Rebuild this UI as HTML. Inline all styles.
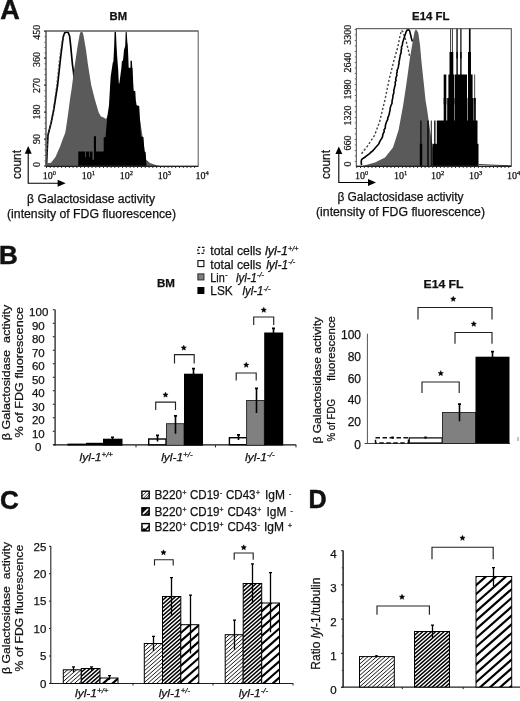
<!DOCTYPE html>
<html>
<head>
<meta charset="utf-8">
<title>Figure</title>
<style>
html,body{margin:0;padding:0;background:#fff;}
body{width:520px;height:701px;overflow:hidden;}
svg{display:block;filter:grayscale(1);}
text{font-family:"Liberation Sans",sans-serif;fill:#111;stroke:#111;stroke-width:0.25px;}
.serif{font-family:"Liberation Serif",serif;}
.b{font-weight:bold;}
.big{stroke-width:0.5px;}
.i{font-style:italic;}
</style>
</head>
<body>
<svg width="520" height="701" viewBox="0 0 520 701">
<defs>
  <path id="star" d="M0.00,-2.75L0.73,-1.01L2.62,-0.85L1.19,0.39L1.62,2.22L0.00,1.25L-1.62,2.22L-1.19,0.39L-2.62,-0.85L-0.73,-1.01Z" fill="#000" stroke="#000" stroke-width="0.5" stroke-linejoin="round"/>
</defs>
<rect x="0" y="0" width="520" height="701" fill="#fff"/>

<!-- ===================== PANEL A ===================== -->
<g id="panelA">
<text x="0.2" y="18.5" class="b big" font-size="27">A</text>
<text x="109.5" y="20" class="b" font-size="11" textLength="17.5" lengthAdjust="spacingAndGlyphs">BM</text>
<text x="412" y="20" class="b" font-size="11" textLength="37.5" lengthAdjust="spacingAndGlyphs">E14 FL</text>

<!-- BM histogram -->
<g id="bm">
  <!-- open histograms -->
  <path d="M46.5,165.5 L47.2,150 L48,135 L51.2,122.5 L53.7,110 L57.6,85 L60.6,57.5 L62.4,43 L63.3,36.5 L64.6,33 L66.5,31.7 L68.3,32.8 L69.6,36 L70.6,45 L72.5,65 L73.5,72 L76,100 L78,166" stroke-linejoin="round" fill="#fff" stroke="#000" stroke-width="1.7"/>
  <path d="M46.5,165.5 L47.8,138 L50.6,124 L53,112 L56.2,88 L59.2,60 L61.8,42 L64,34" fill="none" stroke="#555" stroke-width="0.8" stroke-dasharray="2 2"/>
  <!-- gray -->
  <path d="M47,166 L47,163.3 L51,162.7 L55.5,156.9 L60.1,146.5 L63,138.4 L65.3,132.7 L67.1,121.1 L68.8,108.5 L70.5,95.8 L71.5,90 L73.7,72.5 L77.3,48 L79.5,35.2 L80.3,32.6 L81.5,31.2 L82.7,32.6 L83.5,35.2 L86,50 L88,65 L91.2,85 L95,100 L98.7,112.5 L101,116.5 L103.7,117.5 L106,119 L108.7,114 L112,108 L140,120 L146.2,159.7 L150,163 L155,164.8 L160,166 Z" fill="#5a5a5a"/>
  <!-- black -->
  <path d="M78.3,166 L78.3,151.6 L85.2,151.6 L85.2,157 L86,157 L86,151.6 L89,151.6 L89,157 L89.7,157 L89.7,151.6 L92.5,151.6 L92.5,159.7 L93.9,159.7 L93.9,136.3 L96,136.3 L96,151.6 L103.7,151.6 L103.7,137.2 L105.5,137.2 L107.2,117.3 L109,105.2 L110.2,84 L110.7,76.5 L112.8,62.5 L113.4,61.4 L114.2,45 L114.6,31.4 L115.9,31.4 L116.5,45 L117.2,57 L118.2,70 L118.8,83.3 L119.3,83.6 L120.3,76.3 L121.4,67.8 L121.9,61 L123,60.8 L124,50 L125.2,46 L125.7,31.4 L126.7,31.4 L127.3,42 L127.8,45.3 L128.2,55 L128.7,67.8 L130.5,67.8 L130.5,60.8 L131.9,60.8 L132.2,67.8 L132.6,67.8 L133.2,83 L133.7,90.8 L135.3,91.2 L135.8,99.9 L136.6,105.2 L139.2,106 L141,136.3 L143.5,137.2 L144.4,151.6 L145.6,152 L146.5,166 Z" fill="#000"/>
  <!-- frame -->
  <rect x="46" y="31" width="152.2" height="135.3" fill="none" stroke="#555" stroke-width="1"/>
  <line x1="46" y1="31" x2="198.2" y2="31" stroke="#777" stroke-width="1.4"/>
  <line x1="46" y1="31" x2="46" y2="166.3" stroke="#555" stroke-width="1"/>
  <line x1="46" y1="166.3" x2="198.2" y2="166.3" stroke="#222" stroke-width="1.2"/>
  <!-- ticks -->
  <path d="M46,31h-2 M46,58h-2 M46,85h-2 M46,112h-2 M46,139h-2 M46,166h-2" stroke="#222" stroke-width="1" fill="none"/>
  <line x1="45" y1="31" x2="45" y2="166" stroke="#222" stroke-width="1" stroke-dasharray="0.8 4.6"/>
  <line x1="46" y1="167.3" x2="198" y2="167.3" stroke="#222" stroke-width="1.6" stroke-dasharray="0.9 2.9"/>
  <!-- y labels -->
  <g class="serif" font-size="10" text-anchor="middle">
    <text class="serif" transform="translate(40,32.3) rotate(-90)">450</text>
    <text class="serif" transform="translate(40,59.5) rotate(-90)">360</text>
    <text class="serif" transform="translate(40,85.5) rotate(-90)">270</text>
    <text class="serif" transform="translate(40,112) rotate(-90)">180</text>
    <text class="serif" transform="translate(40,139) rotate(-90)">90</text>
    <text class="serif" transform="translate(40,164.5) rotate(-90)">0</text>
  </g>
  <!-- x labels -->
  <g class="serif" font-size="10">
    <text class="serif" x="42.8" y="179">10<tspan font-size="6.5" dy="-3.8">0</tspan></text>
    <text class="serif" x="81.8" y="179">10<tspan font-size="6.5" dy="-3.8">1</tspan></text>
    <text class="serif" x="119.8" y="179">10<tspan font-size="6.5" dy="-3.8">2</tspan></text>
    <text class="serif" x="157.8" y="179">10<tspan font-size="6.5" dy="-3.8">3</tspan></text>
    <text class="serif" x="195.5" y="179">10<tspan font-size="6.5" dy="-3.8">4</tspan></text>
  </g>
  <!-- count + arrows -->
  <text transform="translate(20.7,179) rotate(-90)" font-size="12" textLength="29" lengthAdjust="spacingAndGlyphs">count</text>
  <path d="M28.2,152 L28.2,183.2 L59,183.2" fill="none" stroke="#000" stroke-width="1.1"/>
  <path d="M28.2,146 L31.7,153.7 L24.8,153.7 Z" fill="#000"/>
  <path d="M65.7,183.2 L57.6,186.8 L57.6,179.8 Z" fill="#000"/>
  <text x="27" y="203" font-size="12">β</text><text x="37.5" y="203" font-size="12" textLength="117.5" lengthAdjust="spacingAndGlyphs">Galactosidase activity</text>
  <text x="7" y="218.3" font-size="12" textLength="169" lengthAdjust="spacingAndGlyphs">(intensity of FDG fluorescence)</text>
</g>

<!-- E14 FL histogram -->
<g id="fl">
  <!-- dashed open -->
  <path d="M361.5,153.7 L367.6,145.9 L374.5,135.5 L379.7,121.5 L383.2,106.9 L384.9,100 L389.3,78.8 L393.5,62 L397.8,47 L400,36 L401.4,30.4 L403,32 L406.1,41.2 L408.8,52 L409.5,56" fill="none" stroke="#444" stroke-width="1.4" stroke-dasharray="2.2 1.9"/>
  <!-- solid open -->
  <path d="M361.5,165.0 L361.3,163.2 L361.2,161.5 L361.6,159.7 L362.6,158.6 L364.5,157.5 L365.9,156.4 L367.2,155.4 L369.3,153.9 L370.6,152.5 L372.7,150.9 L374.1,149.3 L375.4,147.7 L376.9,146.0 L378.6,144.2 L379.4,142.4 L380.4,140.4 L381.6,138.5 L382.5,136.9 L382.7,135.3 L383.1,133.7 L384.2,131.8 L384.0,129.9 L385.3,128.0 L385.3,126.2 L385.7,124.3 L386.3,122.5 L386.9,121.0 L387.8,119.4 L387.7,117.9 L388.7,115.8 L389.3,113.8 L389.5,112.1 L390.1,110.4 L390.1,108.7 L390.5,106.9 L391.1,105.2 L392.0,103.5 L392.0,101.8 L392.2,100.1 L392.7,98.4 L392.9,96.8 L393.0,95.1 L393.7,93.4 L393.9,91.7 L393.8,90.0 L394.4,88.4 L394.6,86.8 L395.2,85.2 L395.3,83.6 L395.2,82.0 L396.1,80.4 L395.7,78.8 L396.2,77.1 L396.9,75.3 L396.6,73.6 L397.2,71.9 L397.1,70.2 L398.0,68.5 L398.4,66.7 L398.6,65.0 L399.1,63.4 L398.9,61.8 L399.5,60.1 L399.7,58.5 L400.0,56.9 L400.2,55.2 L400.8,53.6 L401.2,52.0 L401.1,50.3 L401.6,48.7 L401.4,47.0 L402.3,45.3 L402.5,43.7 L402.8,42.0 L403.3,40.5 L403.8,38.9 L404.3,37.3 L404.8,35.8 L405.5,33.8 L406.1,31.7 L407.3,30.0 L408.6,29.7 L409.6,30.8 L410.0,32.4 L410.4,34.0 L410.9,36.0 L411.3,38.0 L411.9,39.8 L412.4,41.5" fill="none" stroke="#000" stroke-width="1.6" stroke-linejoin="round"/>
  <!-- gray -->
  <path d="M362.5,166 L375,162.5 L385,157.5 L393,147.5 L398.6,130 L403.2,105 L406.6,82.5 L410,57.5 L413,40 L414.6,31.5 L415.8,29.5 L417,30.5 L418.3,33 L420,45 L421.5,62 L423.7,82.5 L425.5,100 L427.3,111 L430,130 L433.4,150.8 L436,160 L440,166 Z" fill="#5a5a5a"/>
  <!-- black spikes -->
  <g fill="#000">
    <rect x="420.3" y="120.5" width="1.2" height="46"/>
    <rect x="419.8" y="143.8" width="2.4" height="22.5"/>
    <rect x="427.3" y="120.5" width="1.4" height="46"/>
    <rect x="430.8" y="120.5" width="0.9" height="46"/>
    <rect x="434.2" y="120.5" width="1.3" height="46"/>
    <rect x="432.5" y="143.8" width="46" height="22.5"/>
    <rect x="436.8" y="120.5" width="40.7" height="46"/>
    <rect x="443.7" y="98" width="2.6" height="30"/>
    <rect x="447.2" y="98" width="7.2" height="30"/>
    <rect x="454.8" y="98" width="12.6" height="30"/>
    <rect x="467.9" y="98" width="5.7" height="30"/>
    <rect x="474.1" y="98" width="1.7" height="30"/>
    <rect x="443.7" y="74.5" width="2.6" height="30"/>
    <rect x="448.4" y="74.5" width="6" height="30"/>
    <rect x="455" y="74.5" width="12" height="30"/>
    <rect x="468" y="74.5" width="4.6" height="30"/>
    <rect x="474.4" y="74.5" width="0.7" height="30"/>
    <rect x="449.5" y="52" width="3.8" height="30"/>
    <rect x="456.4" y="52" width="1.4" height="30"/>
    <rect x="460.2" y="52" width="1.4" height="30"/>
    <rect x="468" y="52" width="3" height="30"/>
    <rect x="450.2" y="28.5" width="0.7" height="30"/>
    <rect x="451.9" y="28.5" width="0.8" height="30"/>
    <rect x="456.4" y="28.5" width="1.3" height="30"/>
    <rect x="460.3" y="28.5" width="1.2" height="30"/>
    <rect x="468.9" y="28.5" width="1.7" height="30"/>
  </g>
  <path d="M478.4,164.4 L490,165 L511,165.8" stroke="#444" stroke-width="1" fill="none"/>
  <!-- frame -->
  <rect x="356.3" y="28.7" width="155" height="137.6" fill="none" stroke="#444" stroke-width="1"/>
  <line x1="356.3" y1="166.3" x2="511.3" y2="166.3" stroke="#222" stroke-width="1.2"/>
  <line x1="355.3" y1="29" x2="355.3" y2="166" stroke="#222" stroke-width="1" stroke-dasharray="0.8 4.7"/>
  <line x1="356.3" y1="167.3" x2="511" y2="167.3" stroke="#222" stroke-width="1.6" stroke-dasharray="0.9 2.9"/>
  <g class="serif" font-size="10" text-anchor="middle">
    <text class="serif" transform="translate(351,34.8) rotate(-90)">3300</text>
    <text class="serif" transform="translate(351,62.5) rotate(-90)">2640</text>
    <text class="serif" transform="translate(351,89.5) rotate(-90)">1980</text>
    <text class="serif" transform="translate(351,115.6) rotate(-90)">1320</text>
    <text class="serif" transform="translate(351,143) rotate(-90)">660</text>
    <text class="serif" transform="translate(351,164) rotate(-90)">0</text>
  </g>
  <g class="serif" font-size="10">
    <text class="serif" x="355" y="179">10<tspan font-size="6.5" dy="-3.8">0</tspan></text>
    <text class="serif" x="394" y="179">10<tspan font-size="6.5" dy="-3.8">1</tspan></text>
    <text class="serif" x="431" y="179">10<tspan font-size="6.5" dy="-3.8">2</tspan></text>
    <text class="serif" x="469" y="179">10<tspan font-size="6.5" dy="-3.8">3</tspan></text>
    <text class="serif" x="507" y="179">10<tspan font-size="6.5" dy="-3.8">4</tspan></text>
  </g>
  <text transform="translate(329.5,179) rotate(-90)" font-size="12" textLength="29" lengthAdjust="spacingAndGlyphs">count</text>
  <path d="M338.8,152 L338.8,182.5 L370,182.5" fill="none" stroke="#000" stroke-width="1.1"/>
  <path d="M338.8,146.5 L342.3,154 L335.4,154 Z" fill="#000"/>
  <path d="M376,182.5 L368,186 L368,179 Z" fill="#000"/>
  <text x="337.5" y="200.8" font-size="12">β</text><text x="347.5" y="200.8" font-size="12" textLength="116" lengthAdjust="spacingAndGlyphs">Galactosidase activity</text>
  <text x="316" y="216" font-size="12" textLength="169" lengthAdjust="spacingAndGlyphs">(intensity of FDG fluorescence)</text>
</g>
</g>
<!-- ===================== PANEL B ===================== -->
<g id="panelB">
<text x="-0.9" y="263.7" class="b big" font-size="26">B</text>
<text x="157" y="287.3" class="b" font-size="11" textLength="18" lengthAdjust="spacingAndGlyphs">BM</text>
<text x="423.5" y="288.4" class="b" font-size="11.5" textLength="40" lengthAdjust="spacingAndGlyphs">E14 FL</text>

<!-- legend -->
<g id="legB" font-size="12">
  <rect x="197.9" y="247.3" width="6" height="6" fill="#fff" stroke="#111" stroke-width="1.2" stroke-dasharray="2.4 1.6"/>
  <rect x="197.9" y="260.6" width="6" height="6" fill="#fff" stroke="#111" stroke-width="1.1"/>
  <rect x="197.9" y="273.9" width="6" height="6" fill="#808080" stroke="#333" stroke-width="1.1"/>
  <rect x="197.4" y="287" width="7" height="7" fill="#000"/>
  <text x="210.3" y="255.3" textLength="51.2" lengthAdjust="spacingAndGlyphs">total cells</text>
  <text x="265" y="255.3" class="i" textLength="23" lengthAdjust="spacingAndGlyphs">lyl-1</text>
  <text x="288" y="250.8" class="i" font-size="8" textLength="10.5" lengthAdjust="spacingAndGlyphs">+/+</text>
  <text x="210.3" y="268.6" textLength="51.2" lengthAdjust="spacingAndGlyphs">total cells</text>
  <text x="266.2" y="268.6" class="i" textLength="22" lengthAdjust="spacingAndGlyphs">lyl-1</text>
  <text x="288.2" y="264" class="i" font-size="8" textLength="7" lengthAdjust="spacingAndGlyphs">-/-</text>
  <text x="210.3" y="281.9" textLength="14.5" lengthAdjust="spacingAndGlyphs">Lin</text>
  <text x="225" y="277" font-size="8">-</text>
  <text x="236" y="281.9" class="i" textLength="21" lengthAdjust="spacingAndGlyphs">lyl-1</text>
  <text x="257" y="277.3" class="i" font-size="8" textLength="7" lengthAdjust="spacingAndGlyphs">-/-</text>
  <text x="210.3" y="295.2" textLength="22.4" lengthAdjust="spacingAndGlyphs">LSK</text>
  <text x="242.6" y="295.2" class="i" textLength="20.8" lengthAdjust="spacingAndGlyphs">lyl-1</text>
  <text x="263.4" y="290.6" class="i" font-size="8" textLength="7" lengthAdjust="spacingAndGlyphs">-/-</text>
</g>

<!-- left chart -->
<g id="bLeft">
  <text transform="translate(9.7,440.2) rotate(-90)" font-size="11.3" textLength="135.5" lengthAdjust="spacingAndGlyphs" xml:space="preserve">β Galactosidase  activity</text>
  <text transform="translate(23.2,437.5) rotate(-90)" font-size="11.3" textLength="130.5" lengthAdjust="spacingAndGlyphs">% of FDG fluorescence</text>
  <g font-size="11.5" text-anchor="middle">
    <text x="38.7" y="316.1">100</text>
    <text x="38.3" y="329.6">90</text>
    <text x="38.3" y="343.1">80</text>
    <text x="38.3" y="356.6">70</text>
    <text x="38.3" y="370.1">60</text>
    <text x="38.3" y="383.6">50</text>
    <text x="38.3" y="397.1">40</text>
    <text x="38.3" y="410.6">30</text>
    <text x="38.3" y="424.1">20</text>
    <text x="38.3" y="437.6">10</text>
    <text x="38.3" y="451.1">0</text>
  </g>
  <line x1="55.1" y1="309.5" x2="55.1" y2="445.4" stroke="#111" stroke-width="1.2"/>
  <path d="M54.6,309.75h-1.8 M54.6,323.25h-1.8 M54.6,336.75h-1.8 M54.6,350.25h-1.8 M54.6,363.75h-1.8 M54.6,377.25h-1.8 M54.6,390.75h-1.8 M54.6,404.25h-1.8 M54.6,417.75h-1.8 M54.6,431.25h-1.8 M54.6,444.75h-1.8" stroke="#111" stroke-width="1.1" fill="none"/>
  <line x1="53.5" y1="444.9" x2="296.3" y2="444.9" stroke="#111" stroke-width="1.2"/>
  <path d="M136,445.3v2 M215.5,445.3v2 M296,445.3v2" stroke="#111" stroke-width="1" fill="none"/>
  <!-- group 1 -->
  <rect x="67.5" y="443.6" width="18.5" height="1.9" fill="#000"/>
  <rect x="86" y="442.8" width="17" height="2.7" fill="#000"/>
  <rect x="103" y="438.7" width="19.5" height="7" fill="#000"/>
  <path class="eb" d="M112.5,436.8V440.0M111.0,437.2h3.0" stroke="#000" stroke-width="1.6" fill="none"/>
  <!-- group 2 -->
  <rect x="148.7" y="439" width="17.3" height="5.8" fill="#fff" stroke="#000" stroke-width="1.4"/>
  <rect x="166.5" y="423.7" width="17.5" height="21.6" fill="#808080" stroke="#222" stroke-width="0.9"/>
  <rect x="184" y="373.7" width="19" height="72" fill="#000"/>
  <path class="eb" d="M157.5,435.0V441.5M156.0,435.4h3.0" stroke="#000" stroke-width="1.6" fill="none"/>
  <path class="eb" d="M175.5,415.5V433.7M174.0,415.9h3.0" stroke="#000" stroke-width="1.6" fill="none"/>
  <path class="eb" d="M193.5,368.2V375.0M192.0,368.59999999999997h3.0" stroke="#000" stroke-width="1.6" fill="none"/>
  <path d="M155.7,410.1 V402.1 H175.5 V410.1" fill="none" stroke="#222" stroke-width="1.15"/>
  <path d="M174.5,363.4 V354.6 H194.2 V363.4" fill="none" stroke="#222" stroke-width="1.15"/>
  <use href="#star" x="165.5" y="394.9"/>
  <use href="#star" x="183.75" y="347.9"/>
  <!-- group 3 -->
  <rect x="229.4" y="437.7" width="17.4" height="7" fill="#fff" stroke="#000" stroke-width="1.4"/>
  <rect x="246.6" y="400.5" width="17.7" height="44.8" fill="#808080" stroke="#222" stroke-width="0.9"/>
  <rect x="264.2" y="332.5" width="19" height="113" fill="#000"/>
  <path class="eb" d="M238.5,434.5V440.0M237.0,434.9h3.0" stroke="#000" stroke-width="1.6" fill="none"/>
  <path class="eb" d="M256.5,388.0V413.0M255.0,388.4h3.0" stroke="#000" stroke-width="1.6" fill="none"/>
  <path class="eb" d="M273.5,328.0V334.0M272.0,328.4h3.0" stroke="#000" stroke-width="1.6" fill="none"/>
  <path d="M236.2,380.5 V373 H256.2 V380.5" fill="none" stroke="#222" stroke-width="1.15"/>
  <path d="M253.7,325 V317 H273.7 V325" fill="none" stroke="#222" stroke-width="1.15"/>
  <use href="#star" x="246.25" y="365.1"/>
  <use href="#star" x="263.75" y="310.1"/>
  <!-- x labels -->
  <g font-size="11.5" class="i">
    <text x="79.5" y="461" class="i" textLength="22" lengthAdjust="spacingAndGlyphs">lyl-1</text>
    <text x="101.5" y="456.8" class="i" font-size="8" textLength="11.5" lengthAdjust="spacingAndGlyphs">+/+</text>
    <text x="161.2" y="461.2" class="i" textLength="22" lengthAdjust="spacingAndGlyphs">lyl-1</text>
    <text x="183.2" y="457" class="i" font-size="8" textLength="9.3" lengthAdjust="spacingAndGlyphs">+/-</text>
    <text x="245" y="461" class="i" textLength="22" lengthAdjust="spacingAndGlyphs">lyl-1</text>
    <text x="267" y="456.8" class="i" font-size="8" textLength="7.6" lengthAdjust="spacingAndGlyphs">-/-</text>
  </g>
</g>

<!-- right chart -->
<g id="bRight">
  <text transform="translate(321.2,443.5) rotate(-90)" font-size="11.6" textLength="126.5" lengthAdjust="spacingAndGlyphs">β Galactosidase activity</text>
  <text transform="translate(335.3,441.5) rotate(-90)" font-size="11.6" textLength="42.5" lengthAdjust="spacingAndGlyphs">% of FDG</text>
  <text transform="translate(335.3,381) rotate(-90)" font-size="11.6" textLength="65" lengthAdjust="spacingAndGlyphs">fluorescence</text>
  <g font-size="12" text-anchor="end">
    <text x="361" y="338.7">100</text>
    <text x="361" y="360.6">80</text>
    <text x="361" y="382.6">60</text>
    <text x="361" y="404.4">40</text>
    <text x="361" y="426.4">20</text>
    <text x="361" y="448.8">0</text>
  </g>
  <line x1="367.4" y1="333.7" x2="367.4" y2="443.7" stroke="#555" stroke-width="1"/>
  <line x1="364.5" y1="443.5" x2="510" y2="443.5" stroke="#444" stroke-width="1"/>
  <line x1="518" y1="437" x2="518" y2="441" stroke="#888" stroke-width="1"/>
  <rect x="375.5" y="437.7" width="33" height="5.3" fill="#fff" stroke="#111" stroke-width="1.5" stroke-dasharray="4.5 2.5"/>
  <rect x="409.2" y="437.9" width="33" height="5.1" fill="#fff" stroke="#000" stroke-width="1.2"/>
  <rect x="442.5" y="412.5" width="33" height="31" fill="#808080" stroke="#222" stroke-width="0.9"/>
  <rect x="475.5" y="356.7" width="34" height="86.8" fill="#000"/>
  <path class="eb" d="M392.5,436.8V438.8M391.3,437.2h2.4" stroke="#000" stroke-width="1.6" fill="none"/>
  <path class="eb" d="M425.5,436.8V438.8M424.3,437.2h2.4" stroke="#000" stroke-width="1.6" fill="none"/>
  <path class="eb" d="M459.5,403.7V421.2M458.0,404.09999999999997h3.0" stroke="#000" stroke-width="1.6" fill="none"/>
  <path class="eb" d="M492.5,351.2V358.0M491.0,351.59999999999997h3.0" stroke="#000" stroke-width="1.6" fill="none"/>
  <path d="M418,319.5 V307.5 H492 V319.5" fill="none" stroke="#222" stroke-width="1.15"/>
  <path d="M455,343.7 V332.5 H492 V343.7" fill="none" stroke="#222" stroke-width="1.15"/>
  <path d="M422,393 V382 H459.2 V393" fill="none" stroke="#222" stroke-width="1.15"/>
  <use href="#star" x="453.25" y="299.1"/>
  <use href="#star" x="473.75" y="324.1"/>
  <use href="#star" x="440.75" y="373.4"/>
</g>
</g>
<!--PANELB_END-->
<!-- ===================== PANEL C ===================== -->
<g id="panelC">
<text x="0" y="508.6" class="b big" font-size="26">C</text>
<!-- legend -->
<g id="legC" font-size="12">
  <clipPath id="lb1"><rect x="141.9" y="491.2" width="7.3" height="7.3"/></clipPath>
  <rect x="141.9" y="491.2" width="7.3" height="7.3" fill="#fff"/>
  <path clip-path="url(#lb1)" d="M140.9,497.3L148.00000000000003,490.2M141.9,499.8L150.50000000000003,491.2M144.5,499.8L150.50000000000003,493.8" stroke="#222" stroke-width="0.9" fill="none"/>
  <rect x="141.9" y="491.2" width="7.3" height="7.3" fill="none" stroke="#000" stroke-width="1.4"/>
  <clipPath id="lb2"><rect x="141.9" y="507.8" width="7.3" height="7.3"/></clipPath>
  <rect x="141.9" y="507.8" width="7.3" height="7.3" fill="#111"/>
  <path clip-path="url(#lb2)" d="M141.9,515.1L149.20000000000002,507.8" stroke="#fff" stroke-width="1.7" fill="none"/>
  <path clip-path="url(#lb2)" d="M145.1,515.7L149.8,511.0" stroke="#bbb" stroke-width="0.7" fill="none"/>
  <rect x="141.9" y="507.8" width="7.3" height="7.3" fill="none" stroke="#000" stroke-width="1.4"/>
  <clipPath id="lb3"><rect x="141.9" y="523.6" width="7.3" height="7.3"/></clipPath>
  <rect x="141.9" y="523.6" width="7.3" height="7.3" fill="#fff"/>
  <path d="M141.9,525.8000000000001L141.9,530.9L147.00000000000003,530.9Z" fill="#000"/>
  <path clip-path="url(#lb3)" d="M143.1,532.1L150.4,524.8000000000001" stroke="#000" stroke-width="1.5" fill="none"/>
  <path clip-path="url(#lb3)" d="M141.70000000000002,529.3L147.60000000000002,523.4" stroke="#fff" stroke-width="1.3" fill="none"/>
  <rect x="141.9" y="523.6" width="7.3" height="7.3" fill="none" stroke="#000" stroke-width="1.4"/>
  <g id="lc1">
    <text x="154.4" y="499" textLength="27.7" lengthAdjust="spacingAndGlyphs">B220</text>
    <text x="182.4" y="495.1" font-size="6.8">+</text>
    <text x="190" y="499" textLength="29.5" lengthAdjust="spacingAndGlyphs">CD19</text>
    <text x="220" y="495.1" font-size="6.8">-</text>
    <text x="226" y="499" textLength="29.5" lengthAdjust="spacingAndGlyphs">CD43</text>
    <text x="256" y="495.1" font-size="6.8">+</text>
    <text x="265" y="499" textLength="20" lengthAdjust="spacingAndGlyphs">IgM</text>
    <text x="289" y="496.1" font-size="6.8">-</text>
  </g>
  <g id="lc2">
    <text x="154.4" y="515.5" textLength="27.7" lengthAdjust="spacingAndGlyphs">B220</text>
    <text x="182.4" y="511.6" font-size="6.8">+</text>
    <text x="190" y="515.5" textLength="29.5" lengthAdjust="spacingAndGlyphs">CD19</text>
    <text x="219.6" y="511.6" font-size="6.8">+</text>
    <text x="227.5" y="515.5" textLength="29.5" lengthAdjust="spacingAndGlyphs">CD43</text>
    <text x="257.3" y="511.6" font-size="6.8">+</text>
    <text x="266.5" y="515.5" textLength="20" lengthAdjust="spacingAndGlyphs">IgM</text>
    <text x="290.5" y="512.6" font-size="6.8">-</text>
  </g>
  <g id="lc3">
    <text x="154.4" y="531" textLength="27.7" lengthAdjust="spacingAndGlyphs">B220</text>
    <text x="182.4" y="527.1" font-size="6.8">+</text>
    <text x="190" y="531" textLength="29.5" lengthAdjust="spacingAndGlyphs">CD19</text>
    <text x="219.6" y="527.1" font-size="6.8">+</text>
    <text x="227.5" y="531" textLength="29.5" lengthAdjust="spacingAndGlyphs">CD43</text>
    <text x="257.5" y="527.1" font-size="6.8">-</text>
    <text x="264" y="531" textLength="20" lengthAdjust="spacingAndGlyphs">IgM</text>
    <text x="288" y="528.1" font-size="6.8">+</text>
  </g>
</g>
<!-- axes -->
<text transform="translate(9.5,673.9) rotate(-90)" font-size="11.3" textLength="131.9" lengthAdjust="spacingAndGlyphs" xml:space="preserve">β Galactosidase  activity</text>
<text transform="translate(23.2,671.4) rotate(-90)" font-size="11.3" textLength="126.6" lengthAdjust="spacingAndGlyphs">% of FDG fluorescence</text>
<g font-size="11.5" text-anchor="end">
  <text x="46.4" y="550.7">25</text>
  <text x="46.4" y="577.7">20</text>
  <text x="46.4" y="605.2">15</text>
  <text x="46.4" y="632.7">10</text>
  <text x="46.4" y="660.2">5</text>
  <text x="46.4" y="687.7">0</text>
</g>
<line x1="50.8" y1="546" x2="50.8" y2="684" stroke="#222" stroke-width="1.1"/>
<path d="M50.8,546.3h-1.8 M50.8,573.7h-1.8 M50.8,601.1h-1.8 M50.8,628.5h-1.8 M50.8,656h-1.8 M50.8,683.4h-1.8" stroke="#222" stroke-width="1" fill="none"/>
<line x1="49.5" y1="683.5" x2="293.2" y2="683.5" stroke="#222" stroke-width="1.1"/>
<path d="M133,683.5v2 M213,683.5v2 M293,683.5v2" stroke="#222" stroke-width="1" fill="none"/>
<!-- group 1 -->
<!--H:c11--><clipPath id="cpc11"><rect x="63.3" y="669.8" width="18" height="13.7"/></clipPath>
<rect x="63.3" y="669.8" width="18" height="13.7" fill="#fff"/>
<path clip-path="url(#cpc11)" d="M62.30,662.88L82.30,645.28M62.30,666.78L82.30,649.18M62.30,670.68L82.30,653.08M62.30,674.58L82.30,656.98M62.30,678.48L82.30,660.88M62.30,682.38L82.30,664.78M62.30,686.28L82.30,668.68M62.30,690.18L82.30,672.58M62.30,694.08L82.30,676.48M62.30,697.98L82.30,680.38M62.30,701.88L82.30,684.28" stroke="#000" stroke-width="0.90" fill="none"/>
<rect x="63.3" y="669.8" width="18" height="13.7" fill="none" stroke="#000" stroke-width="1.0"/><!--/H:c11-->
<!--H:c12--><clipPath id="cpc12"><rect x="81.3" y="668.5" width="18.7" height="15"/></clipPath>
<rect x="81.3" y="668.5" width="18.7" height="15" fill="#fff"/>
<path clip-path="url(#cpc12)" d="M80.30,661.68L101.00,643.46M80.30,665.53L101.00,647.31M80.30,669.38L101.00,651.16M80.30,673.23L101.00,655.01M80.30,677.08L101.00,658.86M80.30,680.93L101.00,662.71M80.30,684.78L101.00,666.56M80.30,688.63L101.00,670.41M80.30,692.48L101.00,674.26M80.30,696.33L101.00,678.11M80.30,700.18L101.00,681.96M80.30,704.03L101.00,685.81" stroke="#000" stroke-width="1.50" fill="none"/>
<rect x="81.3" y="668.5" width="18.7" height="15" fill="none" stroke="#000" stroke-width="1.0"/><!--/H:c12-->
<!--H:c13--><clipPath id="cpc13"><rect x="100" y="678" width="18" height="5.5"/></clipPath>
<rect x="100" y="678" width="18" height="5.5" fill="#fff"/>
<path clip-path="url(#cpc13)" d="M99.00,662.48L119.00,644.88M99.00,670.68L119.00,653.08M99.00,678.88L119.00,661.28M99.00,687.08L119.00,669.48M99.00,695.28L119.00,677.68M99.00,703.48L119.00,685.88" stroke="#000" stroke-width="2.18" fill="none"/>
<rect x="100" y="678" width="18" height="5.5" fill="none" stroke="#000" stroke-width="1.0"/><!--/H:c13-->
<path class="eb" d="M73.5,666.5V672.0M72.0,666.9h3.0" stroke="#000" stroke-width="1.3" fill="none"/>
<path class="eb" d="M91.5,666.5V670.0M90.0,666.9h3.0" stroke="#000" stroke-width="1.3" fill="none"/>
<path class="eb" d="M109.5,675.2V679.7M108.0,675.6h3.0" stroke="#000" stroke-width="1.3" fill="none"/>
<!-- group 2 -->
<!--H:c21--><clipPath id="cpc21"><rect x="144.3" y="643.5" width="18.2" height="40"/></clipPath>
<rect x="144.3" y="643.5" width="18.2" height="40" fill="#fff"/>
<path clip-path="url(#cpc21)" d="M143.30,636.58L163.50,618.80M143.30,640.48L163.50,622.70M143.30,644.38L163.50,626.60M143.30,648.28L163.50,630.50M143.30,652.18L163.50,634.40M143.30,656.08L163.50,638.30M143.30,659.98L163.50,642.20M143.30,663.88L163.50,646.10M143.30,667.78L163.50,650.00M143.30,671.68L163.50,653.90M143.30,675.58L163.50,657.80M143.30,679.48L163.50,661.70M143.30,683.38L163.50,665.60M143.30,687.28L163.50,669.50M143.30,691.18L163.50,673.40M143.30,695.08L163.50,677.30M143.30,698.98L163.50,681.20M143.30,702.88L163.50,685.10" stroke="#000" stroke-width="0.90" fill="none"/>
<rect x="144.3" y="643.5" width="18.2" height="40" fill="none" stroke="#000" stroke-width="1.0"/><!--/H:c21-->
<!--H:c22--><clipPath id="cpc22"><rect x="162.5" y="596.5" width="18.3" height="87"/></clipPath>
<rect x="162.5" y="596.5" width="18.3" height="87" fill="#fff"/>
<path clip-path="url(#cpc22)" d="M161.50,589.68L181.80,571.82M161.50,593.53L181.80,575.67M161.50,597.38L181.80,579.52M161.50,601.23L181.80,583.37M161.50,605.08L181.80,587.22M161.50,608.93L181.80,591.07M161.50,612.78L181.80,594.92M161.50,616.63L181.80,598.77M161.50,620.48L181.80,602.62M161.50,624.33L181.80,606.47M161.50,628.18L181.80,610.32M161.50,632.03L181.80,614.17M161.50,635.88L181.80,618.02M161.50,639.73L181.80,621.87M161.50,643.58L181.80,625.72M161.50,647.43L181.80,629.57M161.50,651.28L181.80,633.42M161.50,655.13L181.80,637.27M161.50,658.98L181.80,641.12M161.50,662.83L181.80,644.97M161.50,666.68L181.80,648.82M161.50,670.53L181.80,652.67M161.50,674.38L181.80,656.52M161.50,678.23L181.80,660.37M161.50,682.08L181.80,664.22M161.50,685.93L181.80,668.07M161.50,689.78L181.80,671.92M161.50,693.63L181.80,675.77M161.50,697.48L181.80,679.62M161.50,701.33L181.80,683.47" stroke="#000" stroke-width="1.50" fill="none"/>
<rect x="162.5" y="596.5" width="18.3" height="87" fill="none" stroke="#000" stroke-width="1.0"/><!--/H:c22-->
<!--H:c23--><clipPath id="cpc23"><rect x="180.8" y="624.7" width="18" height="58.8"/></clipPath>
<rect x="180.8" y="624.7" width="18" height="58.8" fill="#fff"/>
<path clip-path="url(#cpc23)" d="M179.80,609.18L199.80,591.58M179.80,617.38L199.80,599.78M179.80,625.58L199.80,607.98M179.80,633.78L199.80,616.18M179.80,641.98L199.80,624.38M179.80,650.18L199.80,632.58M179.80,658.38L199.80,640.78M179.80,666.58L199.80,648.98M179.80,674.78L199.80,657.18M179.80,682.98L199.80,665.38M179.80,691.18L199.80,673.58M179.80,699.38L199.80,681.78M179.80,707.58L199.80,689.98" stroke="#000" stroke-width="2.18" fill="none"/>
<rect x="180.8" y="624.7" width="18" height="58.8" fill="none" stroke="#000" stroke-width="1.0"/><!--/H:c23-->
<path class="eb" d="M153.5,636.0V651.0M152.0,636.4h3.0" stroke="#000" stroke-width="1.3" fill="none"/>
<path class="eb" d="M171.5,577.2V616.0M170.0,577.6h3.0" stroke="#000" stroke-width="1.3" fill="none"/>
<path class="eb" d="M190.5,594.7V653.5M189.0,595.1h3.0" stroke="#000" stroke-width="1.3" fill="none"/>
<path d="M154.5,565.5 V559.7 H173.2 V565.5" fill="none" stroke="#222" stroke-width="1.15"/>
<use href="#star" x="163.5" y="552.6"/>
<!-- group 3 -->
<!--H:c31--><clipPath id="cpc31"><rect x="225.2" y="634.7" width="18" height="48.8"/></clipPath>
<rect x="225.2" y="634.7" width="18" height="48.8" fill="#fff"/>
<path clip-path="url(#cpc31)" d="M224.20,627.78L244.20,610.18M224.20,631.68L244.20,614.08M224.20,635.58L244.20,617.98M224.20,639.48L244.20,621.88M224.20,643.38L244.20,625.78M224.20,647.28L244.20,629.68M224.20,651.18L244.20,633.58M224.20,655.08L244.20,637.48M224.20,658.98L244.20,641.38M224.20,662.88L244.20,645.28M224.20,666.78L244.20,649.18M224.20,670.68L244.20,653.08M224.20,674.58L244.20,656.98M224.20,678.48L244.20,660.88M224.20,682.38L244.20,664.78M224.20,686.28L244.20,668.68M224.20,690.18L244.20,672.58M224.20,694.08L244.20,676.48M224.20,697.98L244.20,680.38M224.20,701.88L244.20,684.28" stroke="#000" stroke-width="0.90" fill="none"/>
<rect x="225.2" y="634.7" width="18" height="48.8" fill="none" stroke="#000" stroke-width="1.0"/><!--/H:c31-->
<!--H:c32--><clipPath id="cpc32"><rect x="243.2" y="583.5" width="18.5" height="100"/></clipPath>
<rect x="243.2" y="583.5" width="18.5" height="100" fill="#fff"/>
<path clip-path="url(#cpc32)" d="M242.20,576.68L262.70,558.64M242.20,580.53L262.70,562.49M242.20,584.38L262.70,566.34M242.20,588.23L262.70,570.19M242.20,592.08L262.70,574.04M242.20,595.93L262.70,577.89M242.20,599.78L262.70,581.74M242.20,603.63L262.70,585.59M242.20,607.48L262.70,589.44M242.20,611.33L262.70,593.29M242.20,615.18L262.70,597.14M242.20,619.03L262.70,600.99M242.20,622.88L262.70,604.84M242.20,626.73L262.70,608.69M242.20,630.58L262.70,612.54M242.20,634.43L262.70,616.39M242.20,638.28L262.70,620.24M242.20,642.13L262.70,624.09M242.20,645.98L262.70,627.94M242.20,649.83L262.70,631.79M242.20,653.68L262.70,635.64M242.20,657.53L262.70,639.49M242.20,661.38L262.70,643.34M242.20,665.23L262.70,647.19M242.20,669.08L262.70,651.04M242.20,672.93L262.70,654.89M242.20,676.78L262.70,658.74M242.20,680.63L262.70,662.59M242.20,684.48L262.70,666.44M242.20,688.33L262.70,670.29M242.20,692.18L262.70,674.14M242.20,696.03L262.70,677.99M242.20,699.88L262.70,681.84M242.20,703.73L262.70,685.69" stroke="#000" stroke-width="1.50" fill="none"/>
<rect x="243.2" y="583.5" width="18.5" height="100" fill="none" stroke="#000" stroke-width="1.0"/><!--/H:c32-->
<!--H:c33--><clipPath id="cpc33"><rect x="261.7" y="603" width="17.8" height="80.5"/></clipPath>
<rect x="261.7" y="603" width="17.8" height="80.5" fill="#fff"/>
<path clip-path="url(#cpc33)" d="M260.70,587.48L280.50,570.06M260.70,595.68L280.50,578.26M260.70,603.88L280.50,586.46M260.70,612.08L280.50,594.66M260.70,620.28L280.50,602.86M260.70,628.48L280.50,611.06M260.70,636.68L280.50,619.26M260.70,644.88L280.50,627.46M260.70,653.08L280.50,635.66M260.70,661.28L280.50,643.86M260.70,669.48L280.50,652.06M260.70,677.68L280.50,660.26M260.70,685.88L280.50,668.46M260.70,694.08L280.50,676.66M260.70,702.28L280.50,684.86" stroke="#000" stroke-width="2.18" fill="none"/>
<rect x="261.7" y="603" width="17.8" height="80.5" fill="none" stroke="#000" stroke-width="1.0"/><!--/H:c33-->
<path class="eb" d="M234.5,619.7V649.7M233.0,620.1h3.0" stroke="#000" stroke-width="1.3" fill="none"/>
<path class="eb" d="M252.5,563.5V603.5M251.0,563.9h3.0" stroke="#000" stroke-width="1.3" fill="none"/>
<path class="eb" d="M270.5,572.2V632.2M269.0,572.6h3.0" stroke="#000" stroke-width="1.3" fill="none"/>
<path d="M234.2,559.7 V553 H253.2 V559.7" fill="none" stroke="#222" stroke-width="1.15"/>
<use href="#star" x="243.75" y="547.6"/>
<!-- x labels -->
<g font-size="11.5">
  <text x="75" y="697.2" class="i" textLength="22" lengthAdjust="spacingAndGlyphs">lyl-1</text>
  <text x="97" y="693" class="i" font-size="8" textLength="11.5" lengthAdjust="spacingAndGlyphs">+/+</text>
  <text x="158.7" y="697.2" class="i" textLength="22" lengthAdjust="spacingAndGlyphs">lyl-1</text>
  <text x="180.7" y="693" class="i" font-size="8" textLength="9.3" lengthAdjust="spacingAndGlyphs">+/-</text>
  <text x="238.7" y="697.2" class="i" textLength="22" lengthAdjust="spacingAndGlyphs">lyl-1</text>
  <text x="260.7" y="693" class="i" font-size="8" textLength="7.6" lengthAdjust="spacingAndGlyphs">-/-</text>
</g>
</g>
<!--PANELC_END-->
<!-- ===================== PANEL D ===================== -->
<g id="panelD">
<text x="308.4" y="508" class="b big" font-size="25">D</text>
<text transform="translate(320,669.7) rotate(-90)" font-size="12"><tspan>Ratio </tspan><tspan class="i">lyl</tspan><tspan>-1/tubulin</tspan></text>
<g font-size="11.5" text-anchor="end">
  <text x="336.6" y="557.7">4</text>
  <text x="336.6" y="591.5">3</text>
  <text x="336.6" y="625.7">2</text>
  <text x="336.6" y="660.2">1</text>
  <text x="336.6" y="694">0</text>
</g>
<line x1="343.1" y1="550.5" x2="343.1" y2="687.6" stroke="#000" stroke-width="1.3"/>
<path d="M343,550.7h-2 M343,584.9h-2 M343,619.1h-2 M343,653.3h-2 M343,687.3h-2" stroke="#222" stroke-width="1" fill="none"/>
<path d="M343,567.8h-1.2 M343,602h-1.2 M343,636.2h-1.2 M343,670.4h-1.2" stroke="#222" stroke-width="0.8" fill="none"/>
<line x1="341.5" y1="687.1" x2="520" y2="687.1" stroke="#222" stroke-width="1.1"/>
<path d="M402.3,687.1v2 M463.2,687.1v2" stroke="#222" stroke-width="1" fill="none"/>
<!--H:d1--><clipPath id="cpd1"><rect x="359.5" y="656.6" width="34.8" height="30.5"/></clipPath>
<rect x="359.5" y="656.6" width="34.8" height="30.5" fill="#fff"/>
<path clip-path="url(#cpd1)" d="M358.50,649.88L395.30,617.50M358.50,653.68L395.30,621.30M358.50,657.48L395.30,625.10M358.50,661.28L395.30,628.90M358.50,665.08L395.30,632.70M358.50,668.88L395.30,636.50M358.50,672.68L395.30,640.30M358.50,676.48L395.30,644.10M358.50,680.28L395.30,647.90M358.50,684.08L395.30,651.70M358.50,687.88L395.30,655.50M358.50,691.68L395.30,659.30M358.50,695.48L395.30,663.10M358.50,699.28L395.30,666.90M358.50,703.08L395.30,670.70M358.50,706.88L395.30,674.50M358.50,710.68L395.30,678.30M358.50,714.48L395.30,682.10M358.50,718.28L395.30,685.90M358.50,722.08L395.30,689.70" stroke="#000" stroke-width="0.90" fill="none"/>
<rect x="359.5" y="656.6" width="34.8" height="30.5" fill="none" stroke="#000" stroke-width="1.0"/><!--/H:d1-->
<!--H:d2--><clipPath id="cpd2"><rect x="414.5" y="631.5" width="35" height="55.6"/></clipPath>
<rect x="414.5" y="631.5" width="35" height="55.6" fill="#fff"/>
<path clip-path="url(#cpd2)" d="M413.50,624.88L450.50,592.32M413.50,628.63L450.50,596.07M413.50,632.38L450.50,599.82M413.50,636.13L450.50,603.57M413.50,639.88L450.50,607.32M413.50,643.63L450.50,611.07M413.50,647.38L450.50,614.82M413.50,651.13L450.50,618.57M413.50,654.88L450.50,622.32M413.50,658.63L450.50,626.07M413.50,662.38L450.50,629.82M413.50,666.13L450.50,633.57M413.50,669.88L450.50,637.32M413.50,673.63L450.50,641.07M413.50,677.38L450.50,644.82M413.50,681.13L450.50,648.57M413.50,684.88L450.50,652.32M413.50,688.63L450.50,656.07M413.50,692.38L450.50,659.82M413.50,696.13L450.50,663.57M413.50,699.88L450.50,667.32M413.50,703.63L450.50,671.07M413.50,707.38L450.50,674.82M413.50,711.13L450.50,678.57M413.50,714.88L450.50,682.32M413.50,718.63L450.50,686.07M413.50,722.38L450.50,689.82" stroke="#000" stroke-width="1.43" fill="none"/>
<rect x="414.5" y="631.5" width="35" height="55.6" fill="none" stroke="#000" stroke-width="1.0"/><!--/H:d2-->
<!--H:d3--><clipPath id="cpd3"><rect x="476" y="576.5" width="35.7" height="110.6"/></clipPath>
<rect x="476" y="576.5" width="35.7" height="110.6" fill="#fff"/>
<path clip-path="url(#cpd3)" d="M475.00,559.78L512.70,526.60M475.00,568.58L512.70,535.40M475.00,577.38L512.70,544.20M475.00,586.18L512.70,553.00M475.00,594.98L512.70,561.80M475.00,603.78L512.70,570.60M475.00,612.58L512.70,579.40M475.00,621.38L512.70,588.20M475.00,630.18L512.70,597.00M475.00,638.98L512.70,605.80M475.00,647.78L512.70,614.60M475.00,656.58L512.70,623.40M475.00,665.38L512.70,632.20M475.00,674.18L512.70,641.00M475.00,682.98L512.70,649.80M475.00,691.78L512.70,658.60M475.00,700.58L512.70,667.40M475.00,709.38L512.70,676.20M475.00,718.18L512.70,685.00M475.00,726.98L512.70,693.80" stroke="#000" stroke-width="2.18" fill="none"/>
<rect x="476" y="576.5" width="35.7" height="110.6" fill="none" stroke="#000" stroke-width="1.0"/><!--/H:d3-->
<path class="eb" d="M376.5,655.3V657.6M375.3,655.6999999999999h2.4" stroke="#000" stroke-width="1.3" fill="none"/>
<path class="eb" d="M432.5,624.7V638.0M431.0,625.1h3.0" stroke="#000" stroke-width="1.3" fill="none"/>
<path class="eb" d="M493.5,567.2V586.0M492.0,567.6h3.0" stroke="#000" stroke-width="1.3" fill="none"/>
<path d="M377,614.7 V606 H429.4 V614.7" fill="none" stroke="#222" stroke-width="1.15"/>
<path d="M432,559.2 V547.2 H493.2 V559.2" fill="none" stroke="#222" stroke-width="1.15"/>
<use href="#star" x="402.0" y="597.1"/>
<use href="#star" x="462.5" y="538.1"/>
</g>
<!--PANELD_END-->
</svg>
</body>
</html>
